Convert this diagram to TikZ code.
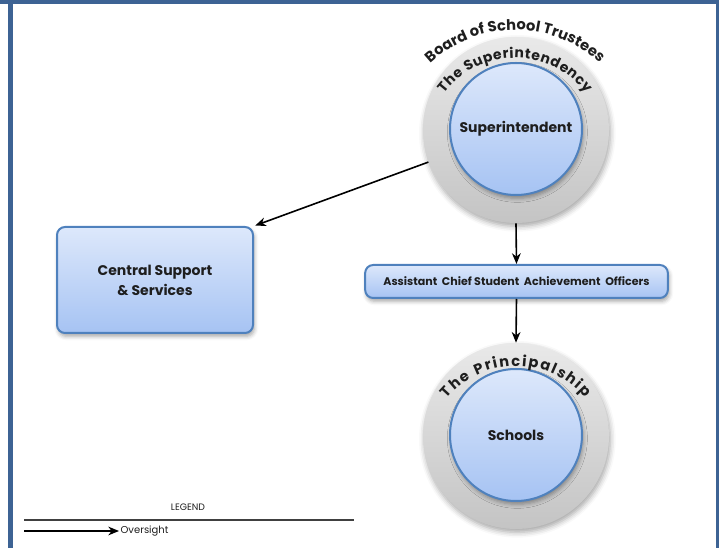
\documentclass[tikz,border=0pt]{standalone}
\usepackage{fontspec}
\setmainfont{Poppins}
\usetikzlibrary{arrows.meta,shadows.blur,decorations.text}
\definecolor{frameblue}{HTML}{3D6394}
\definecolor{bluetop}{HTML}{DDE8FB}
\definecolor{bluebot}{HTML}{A6C3F3}
\definecolor{blueedge}{HTML}{4F81BD}
\definecolor{ringtop}{HTML}{E9E9E9}
\definecolor{ringbot}{HTML}{C4C4C4}
\definecolor{txt}{HTML}{1E1E1E}
\begin{document}
\begin{tikzpicture}[x=0.75pt,y=0.75pt,
 ring/.style={circle, minimum size=139.5pt, inner sep=0pt, top color=ringtop, bottom color=ringbot,
   blur shadow={shadow xshift=1pt, shadow yshift=-2.5pt, shadow opacity=35, shadow blur radius=4pt}},
 core/.style={circle, minimum size=99pt, inner sep=0pt, draw=blueedge, line width=1.5pt,
   top color=bluetop, bottom color=bluebot, text=txt, font=\fontsize{10.5}{12}\selectfont\bfseries,
   blur shadow={shadow xshift=1pt, shadow yshift=-2.5pt, shadow opacity=35, shadow blur radius=3pt}},
 box/.style={draw=blueedge, line width=1.5pt, rounded corners=6pt, top color=bluetop, bottom color=bluebot,
   text=txt, align=center, inner sep=0pt,
   blur shadow={shadow xshift=1pt, shadow yshift=-2.5pt, shadow opacity=35, shadow blur radius=3pt}},
 arr/.style={-{Stealth[length=8pt,width=6.5pt,inset=2.5pt]}, line width=1.2pt, black},
 arctext/.style={decorate, decoration={text along path, text align={fit to path}, text color=txt, text={#1}}}
]
\useasboundingbox (0,0) rectangle (719,-548);
% frame
\fill[frameblue] (0,0) rectangle (719,-4.5);
\fill[frameblue] (8,0) rectangle (13,-548);
\fill[frameblue] (716,0) rectangle (719,-548);

% superintendency
\node[ring] (supO) at (516,-130) {};
\node[core] (sup) at (516,-129) {Superintendent};
% principalship
\node[ring] (schO) at (516,-436) {};
\node[core] (sch) at (516,-435) {Schools};

% boxes
\node[box, minimum width=147pt, minimum height=79.5pt, font=\fontsize{10.5}{15}\selectfont\bfseries]
  (css) at (155,-280) {Central Support\\\& Services};
\node[box, minimum width=227pt, minimum height=24.75pt, font=\fontsize{8.3}{9}\selectfont\bfseries]
  (acs) at (516.5,-281.5) {Assistant\ \ Chief Student\ \ Achievement\ \ Officers};

% arc texts
\path[arctext={|\fontsize{11}{12}\selectfont\bfseries|Board of School Trustees}]
  ([shift={(133:124)}]515,-154) arc[start angle=133, end angle=47, radius=124];
\path[arctext={|\fontsize{10.5}{12}\selectfont\bfseries|The Superintendency}]
  ([shift={(143:89)}]515,-147) arc[start angle=143, end angle=37, radius=89];
\path[arctext={|\fontsize{11}{12}\selectfont\bfseries|The Principalship}]
  ([shift={(140:90)}]516,-456) arc[start angle=140, end angle=40, radius=90];

% connectors
\draw[arr, shorten >=1pt] (supO) -- (css.north east);
\draw[arr] (supO.south) -- (acs.north);
\draw[arr] (acs.south) -- (schO.north);

% legend
\node[font=\fontsize{7}{8}\selectfont, text=txt] (leg) at (188,-507) {LEGEND};
\coordinate (l1) at (24,-520);
\coordinate (l2) at (354,-520);
\draw[black!75, line width=0.8pt] (l1) -- (l2);
\coordinate (a1) at (24,-531);
\node[anchor=west, font=\fontsize{7.5}{8}\selectfont, text=txt, inner sep=1pt] (ov) at (119,-531) {Oversight};
\draw[arr] (a1) -- (ov.west);
\end{tikzpicture}
\end{document}
